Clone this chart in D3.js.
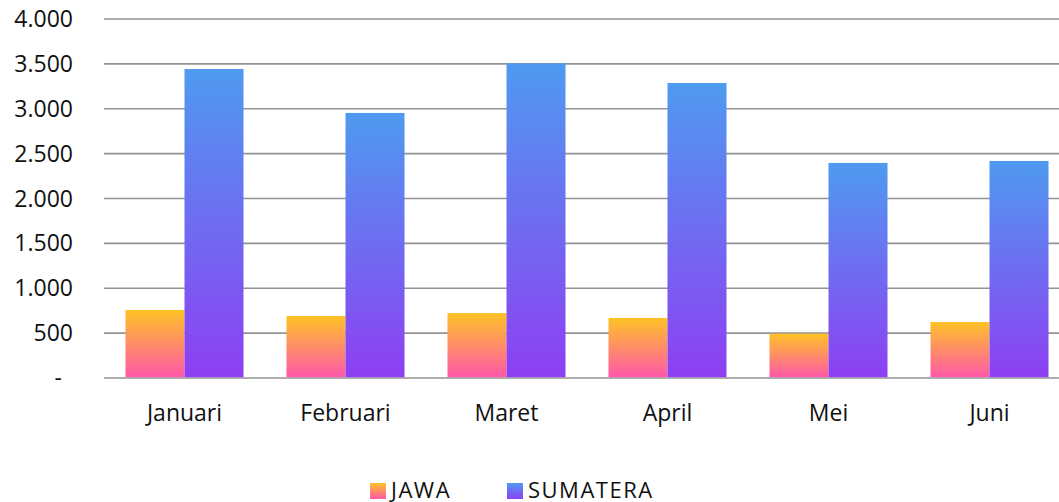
<!DOCTYPE html>
<html>
<head>
<meta charset="utf-8">
<script src="https://cdn.jsdelivr.net/npm/d3@7"></script>
<style>
  body { margin: 0; background: #fff; }
  text { font-family: "Open Sans", sans-serif; fill: #111; }
</style>
</head>
<body>
<div id="chart"></div>
<script>
const months = ["Januari", "Februari", "Maret", "April", "Mei", "Juni"];
const series = ["JAWA", "SUMATERA"];
const jawa = [758, 691, 724, 669, 494, 624];
const sumatera = [3443, 2953, 3505, 3287, 2396, 2418];
const yTicks = [0, 500, 1000, 1500, 2000, 2500, 3000, 3500, 4000];

const width = 1059;
const height = 502;

const svg = d3.select("#chart")
      .append("svg")
      .attr("width", width)
      .attr("height", height);

const defs = svg.append("defs");
const gradStops = {
    JAWA: ["#fec226", "#ff58a9"],
    SUMATERA: ["#4f9af0", "#8e3ff2"]
};
series.forEach(function (s) {
    const g = defs.append("linearGradient")
          .attr("id", "grad-" + s)
          .attr("x1", 0).attr("y1", 0)
          .attr("x2", 0).attr("y2", 1);
    g.append("stop").attr("offset", "0%").attr("stop-color", gradStops[s][0]);
    g.append("stop").attr("offset", "100%").attr("stop-color", gradStops[s][1]);
});

const y = d3.scaleLinear()
      .domain([0, 4000])
      .range([378, 19]);

const x0 = d3.scaleBand()
      .domain(months)
      .range([104, 1070])
      .paddingInner(0.267)
      .paddingOuter(0.1335);

const x1 = d3.scaleBand()
      .domain(series)
      .range([0, x0.bandwidth()]);

// gridlines
svg.selectAll("line.grid")
    .data(yTicks)
    .enter()
    .append("line")
    .attr("class", "grid")
    .attr("x1", 104)
    .attr("x2", width)
    .attr("y1", d => y(d))
    .attr("y2", d => y(d))
    .attr("stroke", "#939393")
    .attr("stroke-width", 1.6);

// y labels
const fmt = function (d) {
    return d === 0 ? "-" : d3.format(",")(d).replace(/,/g, ".");
};
svg.selectAll("text.ylab")
    .data(yTicks)
    .enter()
    .append("text")
    .attr("class", "ylab")
    .attr("x", d => d === 0 ? 62 : 73)
    .attr("y", d => y(d))
    .attr("dy", "0.35em")
    .attr("text-anchor", "end")
    .attr("font-size", 23)
    .text(fmt);

const rows = months.map(function (m, i) {
    return { month: m, values: [ { key: "JAWA", value: jawa[i] }, { key: "SUMATERA", value: sumatera[i] } ] };
});

const groups = svg.selectAll("g.month")
      .data(rows)
      .enter()
      .append("g")
      .attr("class", "month")
      .attr("transform", d => "translate(" + x0(d.month) + ",0)");

groups.selectAll("rect")
    .data(d => d.values)
    .enter()
    .append("rect")
    .attr("x", d => x1(d.key))
    .attr("y", d => y(d.value))
    .attr("width", x1.bandwidth())
    .attr("height", d => y(0) - y(d.value) - 0.8)
    .attr("fill", d => "url(#grad-" + d.key + ")");

// x labels
svg.selectAll("text.xlab")
    .data(months)
    .enter()
    .append("text")
    .attr("class", "xlab")
    .attr("x", d => x0(d) + x0.bandwidth() / 2)
    .attr("y", 421)
    .attr("text-anchor", "middle")
    .attr("font-size", 23)
    .text(d => d);

// legend
const legendX = [370, 507];
const legend = svg.selectAll("g.legend")
      .data(series)
      .enter()
      .append("g")
      .attr("class", "legend")
      .attr("transform", (d, i) => "translate(" + legendX[i] + ",483)");
legend.append("rect")
    .attr("width", 16)
    .attr("height", 16)
    .attr("fill", d => "url(#grad-" + d + ")");
legend.append("text")
    .attr("x", 21)
    .attr("y", 15)
    .attr("font-size", 22)
    .attr("letter-spacing", 1.5)
    .text(d => d);
</script>
</body>
</html>
